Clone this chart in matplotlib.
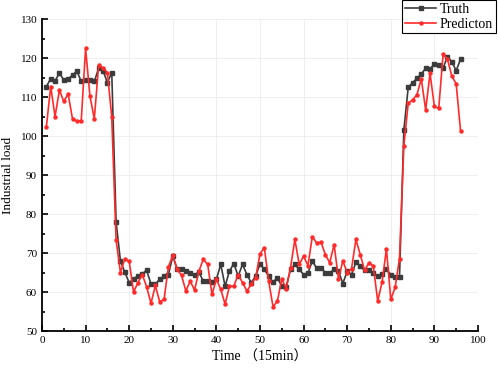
import numpy as np
import matplotlib
matplotlib.use("Agg")
from matplotlib import pyplot as plt
from matplotlib.ticker import MultipleLocator

# data (time index in 15 min steps)
t = np.arange(1, 97)
truth = [112.7, 114.7, 114.2, 116.1, 114.4, 114.7, 115.6, 116.7, 114.0, 114.3,
         114.3, 114.0, 117.4, 116.8, 113.7, 116.3, 78.0, 67.9, 65.1, 62.4,
         63.4, 64.1, 64.7, 65.6, 62.1, 62.0, 63.3, 64.1, 64.5, 69.2,
         66.0, 65.8, 65.4, 65.0, 64.5, 65.1, 62.8, 62.8, 62.6, 63.3,
         67.1, 61.5, 65.4, 67.3, 64.1, 67.1, 64.5, 62.4, 64.1, 67.2,
         65.8, 64.1, 62.5, 63.7, 61.5, 61.3, 65.8, 67.1, 65.8, 64.5,
         64.9, 67.9, 66.2, 66.2, 64.9, 64.9, 65.8, 65.4, 62.2, 65.3,
         64.5, 67.6, 66.6, 65.6, 65.6, 65.0, 64.0, 64.7, 65.8, 64.5,
         63.8, 63.9, 101.6, 112.5, 113.7, 114.8, 115.9, 117.4, 117.2, 118.5,
         118.2, 117.4, 120.4, 119.0, 116.8, 119.7]
pred = [102.3, 112.7, 105.0, 111.8, 108.9, 110.8, 104.4, 103.9, 103.9, 122.5,
        110.3, 104.4, 118.2, 117.4, 116.3, 104.9, 73.3, 65.0, 68.5, 67.9,
        60.0, 62.4, 64.5, 61.4, 57.1, 61.7, 57.5, 58.1, 66.5, 69.4,
        65.8, 64.3, 60.3, 62.8, 60.5, 65.4, 68.4, 67.1, 59.4, 63.3,
        60.7, 56.9, 61.5, 61.5, 64.5, 62.4, 60.3, 62.0, 63.7, 69.8,
        71.4, 62.8, 56.2, 57.7, 63.4, 60.9, 66.2, 73.5, 67.1, 69.2,
        66.8, 74.2, 72.6, 72.8, 69.6, 67.5, 72.2, 63.4, 68.0, 65.0,
        66.0, 73.5, 69.6, 65.6, 67.5, 66.7, 57.7, 62.5, 71.1, 58.1,
        61.2, 68.6, 97.5, 108.4, 109.3, 110.6, 114.7, 106.7, 116.1, 107.6,
        107.1, 121.0, 119.7, 115.4, 113.4, 101.4]

serif = ['Liberation Serif', 'Noto Sans CJK SC']
plt.rcParams['font.family'] = serif

fig = plt.figure(figsize=(4.98, 3.72), dpi=100)
ax = fig.add_axes([0.0843, 0.110, 0.8755, 0.8387])

ax.plot(t, truth, color='#3c3c3c', lw=1.2, marker='s', ms=2.2, label='Truth', zorder=3)
ax.plot(t, pred, color='#ff2a2a', lw=1.2, marker='o', ms=2.2, label='Predicton', zorder=4)

ax.set_xlim(0, 100)
ax.set_ylim(50, 130)
ax.xaxis.set_major_locator(MultipleLocator(10))
ax.xaxis.set_minor_locator(MultipleLocator(5))
ax.yaxis.set_major_locator(MultipleLocator(10))
ax.yaxis.set_minor_locator(MultipleLocator(5))
ax.tick_params(which='both', direction='in', labelsize=8, width=1.2)
ax.tick_params(which='major', length=4)
ax.tick_params(which='minor', length=2.5)
ax.grid(True, color='#ececec', lw=0.6)
ax.set_axisbelow(True)

for s in ['top', 'right']:
    ax.spines[s].set_visible(False)
for s in ['left', 'bottom']:
    ax.spines[s].set_linewidth(1.3)

ax.set_xlabel('Time （15min）', fontsize=10, labelpad=4)
ax.set_ylabel('Industrial load', fontsize=9.5, labelpad=5)

leg = ax.legend(loc='upper right', bbox_to_anchor=(0.996, 0.999),
                bbox_transform=fig.transFigure, fontsize=10, fancybox=False,
                edgecolor='black', framealpha=1, borderpad=0.2,
                handlelength=2.2, handletextpad=0.3, labelspacing=0.1,
                borderaxespad=0)
leg.get_frame().set_linewidth(0.8)

fig.savefig('out.png', dpi=100)
